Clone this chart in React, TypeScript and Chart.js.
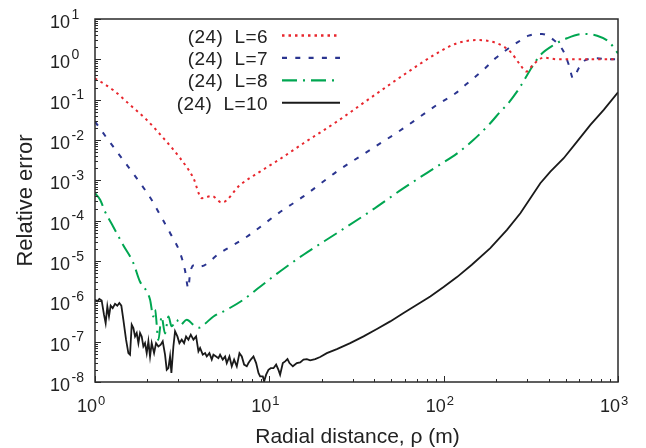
import React, { useEffect, useRef } from 'react';
import { Chart, registerables } from 'chart.js';

Chart.register(...registerables);

const FONT = '"Liberation Sans", Arial, Helvetica, sans-serif';
const INK = '#222222';

// Axis extents (decades) and labels
const xDecades = [0, 1, 2, 3];
const yDecades = [-8, -7, -6, -5, -4, -3, -2, -1, 0, 1];
const xTitle = 'Radial distance, \u03c1 (m)';
const yTitle = 'Relative error';

const seriesLabels = ['(24)  L=6', '(24)  L=7', '(24)  L=8', '(24)  L=10'];
const seriesColors = ['#e8262d', '#2b3590', '#00a651', '#1a1a1a'];
const seriesDashes: number[][] = [[2.5, 4], [5, 8.3], [15, 6, 2, 6], []];
const seriesWidths = [2, 2, 2, 1.8];

// L=6
const l6X = [1, 1.27, 1.59, 1.98, 2.47, 3.08, 3.67, 4.1, 4.67, 5.34, 6.8, 8.85, 11.3, 15.7, 24.4, 37.9, 58.9, 91.4, 119, 155, 202, 241, 275, 298, 328, 375, 450, 600, 1000];
const l6Y = [0.34, 0.174, 0.074, 0.0315, 0.0111, 0.00354, 0.00113, 3.6e-4, 4.1e-4, 2.8e-4, 7.7e-4, 1.65e-3, 3.2e-3, 8.3e-3, 0.0286, 0.109, 0.41, 1.41, 2.5, 3.0, 2.5, 1.55, 0.73, 0.5, 0.76, 1.1, 1.0, 1.0, 1.0];

// L=7
const l7X = [1, 1.17, 1.45, 1.77, 2.12, 2.36, 2.7, 3.08, 3.28, 3.43, 3.51, 3.75, 4.0, 5.2, 7.43, 11.3, 15.7, 24.4, 37.9, 58.9, 91.4, 117, 133, 152, 173, 198, 236, 269, 307, 367, 428, 488, 522, 552, 595, 650, 759, 870, 1000];
const l7Y = [0.0286, 0.0111, 3.2e-3, 1.0e-3, 3.2e-4, 1.4e-4, 4.9e-5, 1.57e-5, 6e-6, 2.1e-6, 5e-6, 8e-6, 7.3e-6, 1.57e-5, 4e-5, 1.54e-4, 4e-4, 1.65e-3, 5.7e-3, 0.0196, 0.074, 0.144, 0.23, 0.37, 0.6, 1.06, 1.88, 2.74, 3.86, 4.25, 3.0, 1.55, 0.73, 0.34, 0.6, 0.96, 1.06, 1.0, 1.0];

// L=8
const l8X = [1, 1.07, 1.14, 1.27, 1.45, 1.66, 1.81, 1.98, 2.07, 2.16, 2.21, 2.31, 2.41, 2.52, 2.64, 2.75, 2.94, 3.08, 3.36, 3.67, 3.92, 4.19, 4.78, 5.7, 7.1, 8.85, 11.5, 15.7, 24.4, 37.9, 58.9, 91.4, 119, 148.5, 185, 211, 231, 264, 275, 320, 359, 428, 510, 635, 759, 885, 1000];
const l8Y = [4.8e-4, 3.3e-4, 1.7e-4, 7.2e-5, 2.5e-5, 8.9e-6, 3.1e-6, 1.76e-6, 1.1e-6, 4.2e-7, 6.2e-7, 1.1e-7, 4.2e-7, 1.6e-7, 4.2e-7, 2.4e-7, 3.5e-7, 2.6e-7, 3.5e-7, 2.6e-7, 2.2e-7, 2.6e-7, 4.2e-7, 6.2e-7, 1.1e-6, 2.3e-6, 5.5e-6, 1.43e-5, 4.9e-5, 1.7e-4, 6.4e-4, 2.2e-3, 4.6e-3, 0.0101, 0.026, 0.05, 0.075, 0.16, 0.21, 0.63, 1.28, 2.27, 3.33, 4.25, 3.86, 2.74, 1.41];

// L=10
const l10X = [1.0, 1.031, 1.059, 1.092, 1.126, 1.151, 1.177, 1.203, 1.23, 1.263, 1.303, 1.343, 1.379, 1.416, 1.454, 1.507, 1.554, 1.588, 1.624, 1.66, 1.697, 1.735, 1.774, 1.813, 1.853, 1.894, 1.936, 1.98, 2.024, 2.069, 2.115, 2.182, 2.24, 2.31, 2.382, 2.446, 2.522, 2.579, 2.636, 2.695, 2.743, 2.816, 2.879, 2.969, 3.049, 3.144, 3.243, 3.33, 3.434, 3.543, 3.669, 3.801, 3.92, 4.007, 4.151, 4.28, 4.375, 4.532, 4.675, 4.779, 4.951, 5.105, 5.219, 5.406, 5.576, 5.7, 5.904, 6.089, 6.281, 6.506, 6.739, 6.95, 7.168, 7.425, 7.59, 7.828, 8.109, 8.4, 8.663, 8.856, 9.174, 9.337, 9.586, 9.886, 10.19, 10.56, 10.94, 11.28, 11.53, 11.95, 12.32, 12.71, 13.05, 13.64, 14.38, 15.03, 15.7, 16.41, 17.15, 18.32, 19.56, 21.37, 24.4, 29.09, 34.71, 41.41, 49.38, 58.88, 70.23, 83.76, 99.9, 119.2, 145, 185.1, 230.7, 275.3, 314.2, 358.4, 409.2, 488.1, 582.1, 694.3, 828.2, 1000];
const l10Y = [1.09e-6, 1.0e-6, 1.14e-6, 1.05e-6, 4.66e-7, 2.89e-7, 7.5e-7, 4.24e-7, 7.8e-7, 6.8e-7, 8.7e-7, 7.8e-7, 9.06e-7, 7.8e-7, 3.5e-7, 1.12e-7, 5.2e-8, 4.75e-8, 2.63e-7, 2.18e-7, 1.35e-7, 1.64e-7, 9.2e-8, 1.64e-7, 1.35e-7, 7.6e-8, 9.2e-8, 5.2e-8, 1.02e-7, 4.3e-8, 9.2e-8, 5.2e-8, 9.2e-8, 7.6e-8, 8.4e-8, 1.02e-7, 4.75e-8, 2.0e-8, 2.2e-8, 4.3e-8, 1.67e-8, 7.6e-8, 1.8e-7, 1.35e-7, 9.2e-8, 1.12e-7, 9.2e-8, 1.35e-7, 1.12e-7, 1.49e-7, 1.12e-7, 1.35e-7, 5.75e-8, 6.95e-8, 4.75e-8, 5.2e-8, 4.3e-8, 5.2e-8, 3.6e-8, 4.75e-8, 4.3e-8, 3.9e-8, 4.75e-8, 3.6e-8, 4.3e-8, 2.95e-8, 4.3e-8, 2.45e-8, 3.6e-8, 2.45e-8, 5.2e-8, 4.3e-8, 2.7e-8, 2.45e-8, 2.95e-8, 3.6e-8, 4.3e-8, 2.95e-8, 1.67e-8, 1.38e-8, 1.38e-8, 1.04e-8, 1.52e-8, 2.0e-8, 2.2e-8, 2.2e-8, 2.7e-8, 2.0e-8, 1.52e-8, 2.95e-8, 3.25e-8, 3.7e-8, 2.95e-8, 2.45e-8, 2.95e-8, 3.07e-8, 3.6e-8, 3.7e-8, 3.44e-8, 3.7e-8, 4.16e-8, 5.2e-8, 6.56e-8, 9.2e-8, 1.35e-7, 2.06e-7, 3.18e-7, 5.12e-7, 8.24e-7, 1.32e-6, 2.26e-6, 3.99e-6, 8.06e-6, 2.09e-5, 5.93e-5, 1.53e-4, 3.61e-4, 8.5e-4, 1.65e-3, 3.54e-3, 9.14e-3, 0.0237, 0.0557, 0.152];

const seriesX = [l6X, l7X, l8X, l10X];
const seriesY = [l6Y, l7Y, l8Y, l10Y];

const pair = (xs: number[], ys: number[]) => xs.map((x, i) => ({ x, y: ys[i] }));

// Box frame, inward log ticks, power-of-ten labels, titles and legend
const decorPlugin = {
  id: 'decor',
  afterDatasetsDraw(chart: any) {
    const { ctx, chartArea: a, scales } = chart;
    const xs = scales.x;
    const ys = scales.y;
    ctx.save();

    ctx.strokeStyle = '#2a2a2a';
    ctx.lineWidth = 1.5;
    ctx.strokeRect(a.left, a.top, a.right - a.left, a.bottom - a.top);

    ctx.lineWidth = 1;
    ctx.beginPath();
    for (const d of yDecades) {
      for (let k = 1; k <= 9; k++) {
        const v = k * Math.pow(10, d);
        if (v > 10.0001) break;
        const py = Math.round(ys.getPixelForValue(v)) + 0.5;
        const len = k === 1 ? 6 : 3;
        ctx.moveTo(a.left, py);
        ctx.lineTo(a.left + len, py);
      }
    }
    for (const d of xDecades) {
      for (let k = 1; k <= 9; k++) {
        const v = k * Math.pow(10, d);
        if (v > 1000.0001) break;
        const px = Math.round(xs.getPixelForValue(v)) + 0.5;
        const len = k === 1 ? 6 : 3;
        ctx.moveTo(px, a.bottom);
        ctx.lineTo(px, a.bottom - len);
      }
    }
    ctx.stroke();

    ctx.fillStyle = INK;
    ctx.textBaseline = 'alphabetic';
    const expStr = (d: number) => (d < 0 ? '-' + Math.abs(d) : String(d));

    for (const d of yDecades) {
      const py = ys.getPixelForValue(Math.pow(10, d));
      ctx.font = `18px ${FONT}`;
      ctx.textAlign = 'right';
      ctx.fillText('10', a.left - 25, py + 9);
      ctx.font = `14px ${FONT}`;
      ctx.textAlign = 'left';
      ctx.fillText(expStr(d), a.left - 23.5, py - 0.5);
    }
    for (const d of xDecades) {
      const px = xs.getPixelForValue(Math.pow(10, d));
      ctx.font = `18px ${FONT}`;
      ctx.textAlign = 'right';
      ctx.fillText('10', px + 2, a.bottom + 30);
      ctx.font = `13px ${FONT}`;
      ctx.textAlign = 'left';
      ctx.fillText(expStr(d), px + 3, a.bottom + 23);
    }

    ctx.font = `21px ${FONT}`;
    ctx.textAlign = 'center';
    ctx.fillText(xTitle, (a.left + a.right) / 2 + 1, 443);

    ctx.save();
    ctx.translate(32, (a.top + a.bottom) / 2);
    ctx.rotate(-Math.PI / 2);
    ctx.font = `22px ${FONT}`;
    ctx.textAlign = 'center';
    ctx.fillText(yTitle, 0, 0);
    ctx.restore();

    ctx.font = `19px ${FONT}`;
    ctx.textAlign = 'right';
    if ('letterSpacing' in ctx) (ctx as any).letterSpacing = '0.4px';
    seriesLabels.forEach((label, i) => {
      const y = 35.5 + i * 22.4;
      ctx.fillStyle = INK;
      ctx.fillText(label, 268, y + 7);
      ctx.beginPath();
      ctx.strokeStyle = seriesColors[i];
      ctx.lineWidth = seriesWidths[i] + 0.3;
      ctx.setLineDash(seriesDashes[i]);
      ctx.moveTo(282, y);
      ctx.lineTo(340, y);
      ctx.stroke();
      ctx.setLineDash([]);
    });

    ctx.restore();
  },
};

export default function App() {
  const canvasRef = useRef<HTMLCanvasElement | null>(null);

  useEffect(() => {
    const canvas = canvasRef.current;
    if (!canvas) return;
    const chart = new Chart(canvas, {
      type: 'line',
      data: {
        datasets: seriesLabels.map((label, i) => ({
          label,
          data: pair(seriesX[i], seriesY[i]),
          borderColor: seriesColors[i],
          backgroundColor: seriesColors[i],
          borderWidth: seriesWidths[i],
          borderDash: seriesDashes[i],
          pointRadius: 0,
          fill: false,
          cubicInterpolationMode: i === 3 ? 'default' : 'monotone',
        })),
      },
      options: {
        animation: false,
        responsive: true,
        maintainAspectRatio: false,
        parsing: false,
        layout: { padding: { left: 95, top: 19, right: 28, bottom: 66 } },
        plugins: {
          legend: { display: false },
          tooltip: { enabled: false },
        },
        scales: {
          x: { type: 'logarithmic', min: 1, max: 1000, display: false },
          y: { type: 'logarithmic', min: 1e-8, max: 10, display: false },
        },
      },
      plugins: [decorPlugin],
    } as any);
    return () => chart.destroy();
  }, []);

  return (
    <div style={{ position: 'fixed', left: 0, top: 0, width: 646, height: 448, background: '#fff' }}>
      <canvas ref={canvasRef} />
    </div>
  );
}
